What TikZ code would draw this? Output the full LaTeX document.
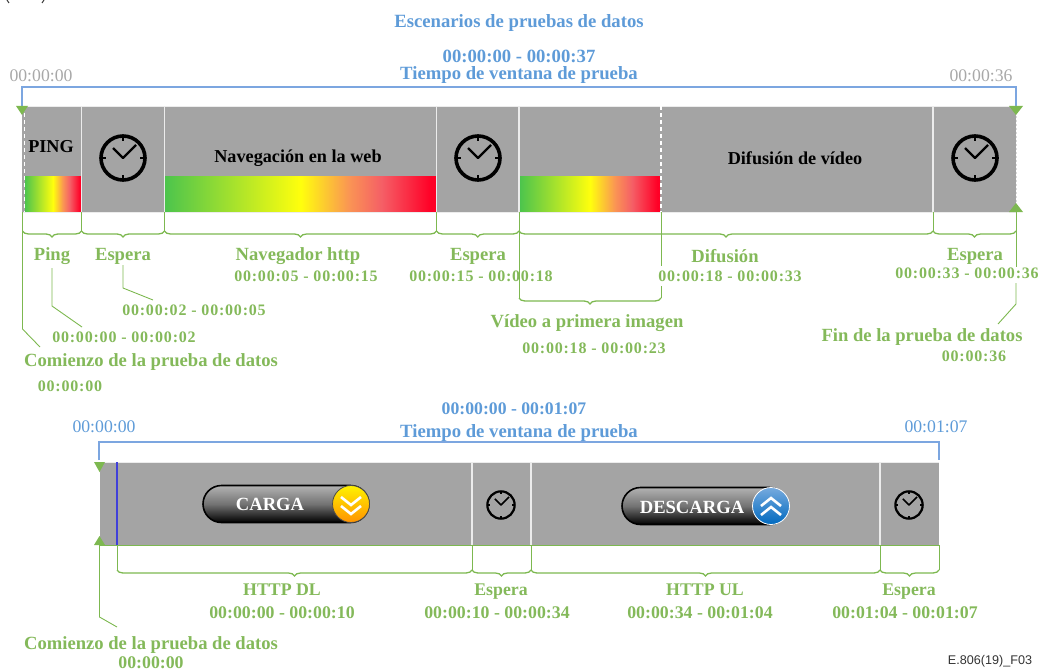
\documentclass[tikz,border=0pt]{standalone}
\usepackage{fontspec}
\setmainfont{Liberation Serif}
\setsansfont{Liberation Sans}
\usetikzlibrary{decorations.pathreplacing,calc}
\definecolor{gtxt}{HTML}{84B95A}
\definecolor{gline}{HTML}{7DB850}
\definecolor{btxt}{HTML}{5E9BD8}
\definecolor{bline}{HTML}{7CA6E0}
\definecolor{grtxt}{HTML}{A8A8A8}
\definecolor{bar}{HTML}{A4A4A4}
\pgfdeclarehorizontalshading{qual}{100bp}{
 rgb(0bp)=(0.30,0.77,0.30);
 rgb(25bp)=(0.30,0.77,0.30);
 rgb(50bp)=(1,1,0.05);
 rgb(59bp)=(0.98,0.58,0.33);
 rgb(65bp)=(0.96,0.37,0.40);
 rgb(74bp)=(1,0,0.15);
 rgb(100bp)=(1,0,0.15)}
\newfontfamily\lsfont[LetterSpace=5]{Liberation Serif}
\newcommand{\clockat}[4]{% name,x,y,scale
 \node[circle,draw=black,line width=#4*3.6pt,minimum size=#4*44pt,inner sep=0pt] (#1) at (#2,#3) {};
 \begin{scope}[shift={(#2,#3)},scale=#4]
 \draw[black,line width=#4*2pt+0.3pt,line join=round] (-10,-10) -- (0,0) -- (13,-13);
 \foreach \a in {0,90,180,270}{\draw[black,line width=#4*2pt+0.2pt] (\a:20.5) -- (\a:17);}
 \end{scope}}
\newcommand{\bracebelow}[3]{% x1 x2 y
 \draw[gline,line width=1.3pt,decorate,decoration={brace,mirror,amplitude=6pt,aspect=0.5}] (#1,#3) -- (#2,#3);}
\tikzset{
 seplin/.style={draw=white!85!gray,line width=1.1pt},
 gconn/.style={draw=gline,line width=0.9pt},
 bconn/.style={draw=bline,line width=1.2pt},
 tri/.style={fill=gline,draw=none},
 gl/.style={text=gtxt,font=\fontsize{18.6}{20}\selectfont\bfseries,inner sep=0pt,yshift=-1.5pt},
 gt/.style={text=gtxt,font=\fontsize{16}{18}\selectfont\bfseries\lsfont,inner sep=0pt},
 gb/.style={text=gtxt,font=\fontsize{17.8}{20}\selectfont\bfseries,inner sep=0pt},
 bl/.style={text=btxt,font=\fontsize{18.7}{20}\selectfont\bfseries,inner sep=0pt,yshift=-1.5pt},
 blt/.style={text=btxt,font=\fontsize{17.7}{20}\selectfont\bfseries,inner sep=0pt},
 bk/.style={text=black,font=\fontsize{18.2}{20}\selectfont\bfseries,inner sep=0pt,yshift=-1pt},
 pill/.style={rounded corners=18.5pt,draw=black,line width=1.6pt,top color=white!70!black,bottom color=black,middle color=black!55},
 pilltxt/.style={text=white,font=\fontsize{18.6}{20}\selectfont\bfseries,inner sep=0pt},
}
\begin{document}
\begin{tikzpicture}[x=1pt,y=-1pt]
\useasboundingbox (0,0) rectangle (1040,671);
% clipped fragment at top-left
\draw[black!75,line width=1pt] (7,0) -- (9,3);
\draw[black!75,line width=1pt] (44,0) -- (42,3);
% top bar
\fill[bar] (22,106) rectangle (1016,212);
\shade[shading=qual] (25,176) rectangle (81,212);
\shade[shading=qual] (165,176) rectangle (436,212);
\shade[shading=qual] (520,176) rectangle (660,212);
\draw[white!85!gray,line width=0.8pt] (22,106) -- (1016,106);
\draw[white!85!gray,line width=0.8pt] (22,212) -- (1016,212);
\foreach \x in {81.5,164.5,436.5,519,933}{\draw[seplin] (\x,106) -- (\x,212);}
\draw[white,line width=1.2pt,dash pattern=on 4pt off 3pt] (24.5,106) -- (24.5,212);
\draw[white,line width=1.2pt,dash pattern=on 4pt off 3pt] (661,106) -- (661,212);
\draw[white!70!gray,line width=1pt,dash pattern=on 2pt off 2pt] (1016,116) -- (1016,204);
% clocks
\clockat{ck1}{123}{158}{1}
\clockat{ck2}{478}{158}{1}
\clockat{ck3}{975}{158}{1}
% top bracket
\coordinate (tl) at (22,87); \coordinate (tr) at (1016,87);
\draw[bconn] (22,112) -- (tl) -- (tr) -- (1016,108);
\fill[tri] (16,106) -- (28,106) -- (22,115) -- cycle;
\fill[tri] (1009,106) -- (1023,106) -- (1016,115) -- cycle;
\fill[tri] (1009,212) -- (1023,212) -- (1016,203) -- cycle;
% top leaders
\foreach \x in {81.5,164.5,436.5,933}{\draw[gconn] (\x,212) -- (\x,231);}
\draw[gconn] (22.5,212) -- (22.5,329) -- (40,347);
\draw[gconn] (1016,212) -- (1016,267);
\draw[gconn] (1016,283) -- (1016,304) -- (998,324);
\draw[gconn] (519,212) -- (519,298);
\draw[gconn] (661,212) -- (661,266);
\draw[gconn] (661,286) -- (661,298);
\draw[gconn] (52,268) -- (52,306) -- (82,327);
\draw[gconn] (123,265) -- (123,288) -- (153,300);
\bracebelow{22.5}{81.5}{231}
\bracebelow{81.5}{164.5}{231}
\bracebelow{164.5}{436.5}{231}
\bracebelow{436.5}{519}{231}
\bracebelow{519}{933}{231}
\bracebelow{933}{1016}{231}
\bracebelow{519}{661}{298}
% top texts
\node[bl] (t1) at (519,22) {Escenarios de pruebas de datos};
\node[bl] (t2) at (519,55) {00:00:00 - 00:00:37};
\node[bl] (t3) at (519,74) {Tiempo de ventana de prueba};
\node[text=grtxt,font=\fontsize{17.7}{20}\selectfont,inner sep=0pt] (t4) at (41,76) {00:00:00};
\node[text=grtxt,font=\fontsize{17.7}{20}\selectfont,inner sep=0pt] (t5) at (981,76) {00:00:36};
\node[bk] (p1) at (51,146) {PING};
\node[bk] (p2) at (298,157) {Navegación en la web};
\node[bk] (p3) at (795,157) {Difusión de vídeo};
\node[gl] (a1) at (52,255) {Ping};
\node[gl] (a2) at (123,255) {Espera};
\node[gl] (a3) at (298,255) {Navegador http};
\node[gl] (a4) at (478,255) {Espera};
\node[gl] (a5) at (725,255) {Difusión};
\node[gl] (a6) at (975,255) {Espera};
\node[gt] (b3) at (306,276) {00:00:05 - 00:00:15};
\node[gt] (b4) at (481,276) {00:00:15 - 00:00:18};
\node[gt] (b5) at (730,276) {00:00:18 - 00:00:33};
\node[gt] (b6) at (967,273) {00:00:33 - 00:00:36};
\node[gt] (b2) at (194,310) {00:00:02 - 00:00:05};
\node[gt] (b1) at (124,337) {00:00:00 - 00:00:02};
\node[gl] (c1) at (151,361) {Comienzo de la prueba de datos};
\node[gt] (c2) at (70,386) {00:00:00};
\node[gl] (c3) at (587,322) {Vídeo a primera imagen};
\node[gt] (c4) at (594,348) {00:00:18 - 00:00:23};
\node[gl] (c5) at (922,336) {Fin de la prueba de datos};
\node[gt] (c6) at (974,356) {00:00:36};
% bottom bar
\fill[bar] (100,462) rectangle (939,545);
\draw[white!85!gray,line width=0.8pt] (100,462) -- (939,462);
\foreach \x in {472,531,880}{\draw[seplin] (\x,462) -- (\x,545);}
\draw[gline,line width=1pt] (100,545) -- (939,545);
\draw[black!20!blue!75!white,line width=1.4pt] (117,462) -- (117,545);
\clockat{ck4}{501}{505}{0.62}
\clockat{ck5}{909}{505}{0.62}
% pills
\node[minimum width=166pt,minimum height=37pt,pill,inner sep=0pt] (pa) at (286,504) {};
\node[pilltxt] (pat) at (270,504) {CARGA};
\node[circle,minimum size=37pt,inner sep=0pt,draw=black!70,line width=0.8pt,top color=yellow!90!orange,bottom color=orange!85!yellow] (pac) at (351,504) {};
\draw[white,line width=2.6pt,line join=miter] (341,497) -- (351,505) -- (361,497);
\draw[white,line width=2.6pt,line join=miter] (341,506) -- (351,514) -- (361,506);
\node[minimum width=166pt,minimum height=37pt,pill,inner sep=0pt] (pb) at (705,506) {};
\node[pilltxt] (pbt) at (692,507) {DESCARGA};
\node[circle,minimum size=37pt,inner sep=0pt,draw=white,line width=0.8pt,top color=btxt!85!white,bottom color=blue!45!cyan!75!black] (pbc) at (771,506) {};
\draw[white,line width=2.6pt,line join=miter] (761,506) -- (771,498) -- (781,506);
\draw[white,line width=2.6pt,line join=miter] (761,515) -- (771,507) -- (781,515);
% bottom bracket
\draw[bconn] (99,460) -- (99,442) -- (939,442) -- (939,460);
\fill[tri] (94,462) -- (105,462) -- (99.5,472) -- cycle;
\fill[tri] (94,545) -- (105,545) -- (99.5,536) -- cycle;
\draw[gconn] (99.5,545) -- (99.5,617) -- (117,627);
\foreach \x in {117,472,531,880,939}{\draw[gconn] (\x,545) -- (\x,570);}
\bracebelow{117}{472}{570}
\bracebelow{472}{531}{570}
\bracebelow{531}{880}{570}
\bracebelow{880}{939}{570}
% bottom texts
\node[blt] (d1) at (514,409) {00:00:00 - 00:01:07};
\node[bl] (d2) at (519,431) {Tiempo de ventana de prueba};
\node[text=btxt,font=\fontsize{17.7}{20}\selectfont,inner sep=0pt] (d3) at (104,427) {00:00:00};
\node[text=btxt,font=\fontsize{17.7}{20}\selectfont,inner sep=0pt] (d4) at (936,427) {00:01:07};
\node[gb] (e1) at (282,590) {HTTP DL};
\node[gb] (e2) at (282,613) {00:00:00 - 00:00:10};
\node[gb] (e3) at (501,592) {Espera};
\node[gb] (e4) at (497,613) {00:00:10 - 00:00:34};
\node[gb] (e5) at (705,590) {HTTP UL};
\node[gb] (e6) at (700,613) {00:00:34 - 00:01:04};
\node[gb] (e7) at (909,592) {Espera};
\node[gb] (e8) at (905,613) {00:01:04 - 00:01:07};
\node[gl] (e9) at (151,644) {Comienzo de la prueba de datos};
\node[gb] (e10) at (151,662.5) {00:00:00};
\node[text=black!80,font=\fontsize{12.6}{14}\selectfont\sffamily,inner sep=0pt] (fn) at (990,661) {E.806(19)\_F03};
\end{tikzpicture}
\end{document}
